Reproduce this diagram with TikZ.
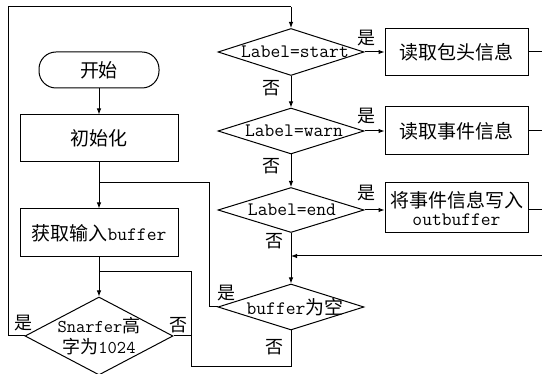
\documentclass[tikz,border=0pt]{standalone}
\usepackage{fontspec}
\newfontfamily\cjk{Noto Sans CJK SC}
\usetikzlibrary{shapes.geometric,arrows.meta}
\newcommand{\zh}[1]{{\cjk #1}}
\newcommand{\en}[1]{{\ttfamily #1}}
\begin{document}
\begin{tikzpicture}[x=1pt,y=-1pt,
  every node/.style={font=\fontsize{19}{18}\selectfont},
  ln/.style={line width=1pt},
  arr/.style={ln,-{Latex[length=6pt,width=4.5pt]}},
  boxnode/.style={draw,ln,rectangle,inner sep=0pt,align=center},
  pill/.style={draw,ln,rectangle,rounded corners=17pt,inner sep=0pt,minimum width=120pt,minimum height=36pt},
  dia/.style={draw,ln,diamond,inner sep=0pt,minimum width=146pt,minimum height=46pt},
  lab/.style={inner sep=0pt,font=\fontsize{18}{18}\selectfont\cjk}]
\useasboundingbox (0,0) rectangle (542,374);
% nodes
\node[pill] (start) at (99,70) {\zh{开始}};
\node[boxnode,minimum width=158pt,minimum height=47pt] (init) at (99,138.5) {\zh{初始化}};
\node[boxnode,minimum width=158pt,minimum height=48pt] (getbuf) at (99,233) {\zh{获取输入}\en{buffer}};
\node[dia,minimum width=148pt,minimum height=78pt] (snarf) at (99,336) {\makebox[0pt]{\raisebox{-3pt}{\fontsize{18}{18}\selectfont\shortstack{\en{Snarfer}\zh{高}\\[1pt]\zh{字为}\en{1024}}}}};
\node[dia,minimum height=47pt] (d1) at (291,52) {\makebox[0pt]{\hspace{8pt}\en{Label=start}}};
\node[dia] (d2) at (291,131) {\makebox[0pt]{\hspace{6pt}\en{Label=warn}}};
\node[dia,minimum height=45pt] (d3) at (291,210) {\makebox[0pt]{\hspace{2pt}\en{Label=end}}};
\node[dia] (d4) at (291,307) {\makebox[0pt]{\hspace{8pt}\en{buffer}\zh{为空}}};
\node[boxnode,minimum width=143pt,minimum height=47pt] (b1) at (456.5,52.5) {\zh{读取包头信息}};
\node[boxnode,minimum width=143pt,minimum height=48pt] (b2) at (456.5,131) {\zh{读取事件信息}};
\node[boxnode,minimum width=143pt,minimum height=50pt] (b3) at (456.5,208) {\zh{将事件信息写入}\\\en{outbuffer}};
% coordinates
\coordinate (j1) at (99,183);
\coordinate (j1r) at (209,183);
\coordinate (j2) at (99,272);
\coordinate (j2r) at (191,272);
\coordinate (lowr) at (191,367);
\coordinate (lowc) at (291,367);
\coordinate (tl) at (8,7);
\coordinate (bl) at (8,336);
\coordinate (tc) at (291,7);
\coordinate (e1) at (542,52);
\coordinate (e2) at (542,131);
\coordinate (e3) at (542,210);
\coordinate (busr) at (542,256);
\coordinate (busc) at (291,256);
% connectors
\draw[arr] (start) -- (init);
\draw[arr] (init) -- (getbuf);
\draw[arr] (getbuf) -- (snarf);
\draw[ln] (d4.west) -- (d4.west -| j1r) -- (j1r) -- (j1);
\draw[ln] (j2) -- (j2r) -- (lowr) -- (lowc) -- (d4.south);
\draw[ln] (snarf.east) -- (snarf.east -| j2r);
\draw[ln] (snarf.west) -- (bl) -- (tl) -- (tc);
\draw[arr] (tc) -- (d1.north);
\draw[arr] (d1) -- (d2);
\draw[arr] (d2) -- (d3);
\draw[arr] (d3) -- (d4);
\draw[arr] (d1.east) -- (b1.west |- d1.east);
\draw[arr] (d2.east) -- (b2.west |- d2.east);
\draw[arr] (d3.east) -- (b3.west |- d3.east);
\draw[ln] (b1.east |- e1) -- (e1);
\draw[ln] (b2.east |- e2) -- (e2);
\draw[ln] (b3.east |- e3) -- (e3);
\draw[arr] (busr) -- (busc);
% labels
\node[lab] (y1) at (366,38) {是};
\node[lab] (y2) at (366,116) {是};
\node[lab] (y3) at (366,193) {是};
\node[lab] (n1) at (271,88) {否};
\node[lab] (n2) at (271,166) {否};
\node[lab] (n3) at (274,241) {否};
\node[lab] (y4) at (226,293) {是};
\node[lab] (n4) at (274,347) {否};
\node[lab] (y5) at (24,323) {是};
\node[lab] (n5) at (178,325) {否};
\end{tikzpicture}
\end{document}
